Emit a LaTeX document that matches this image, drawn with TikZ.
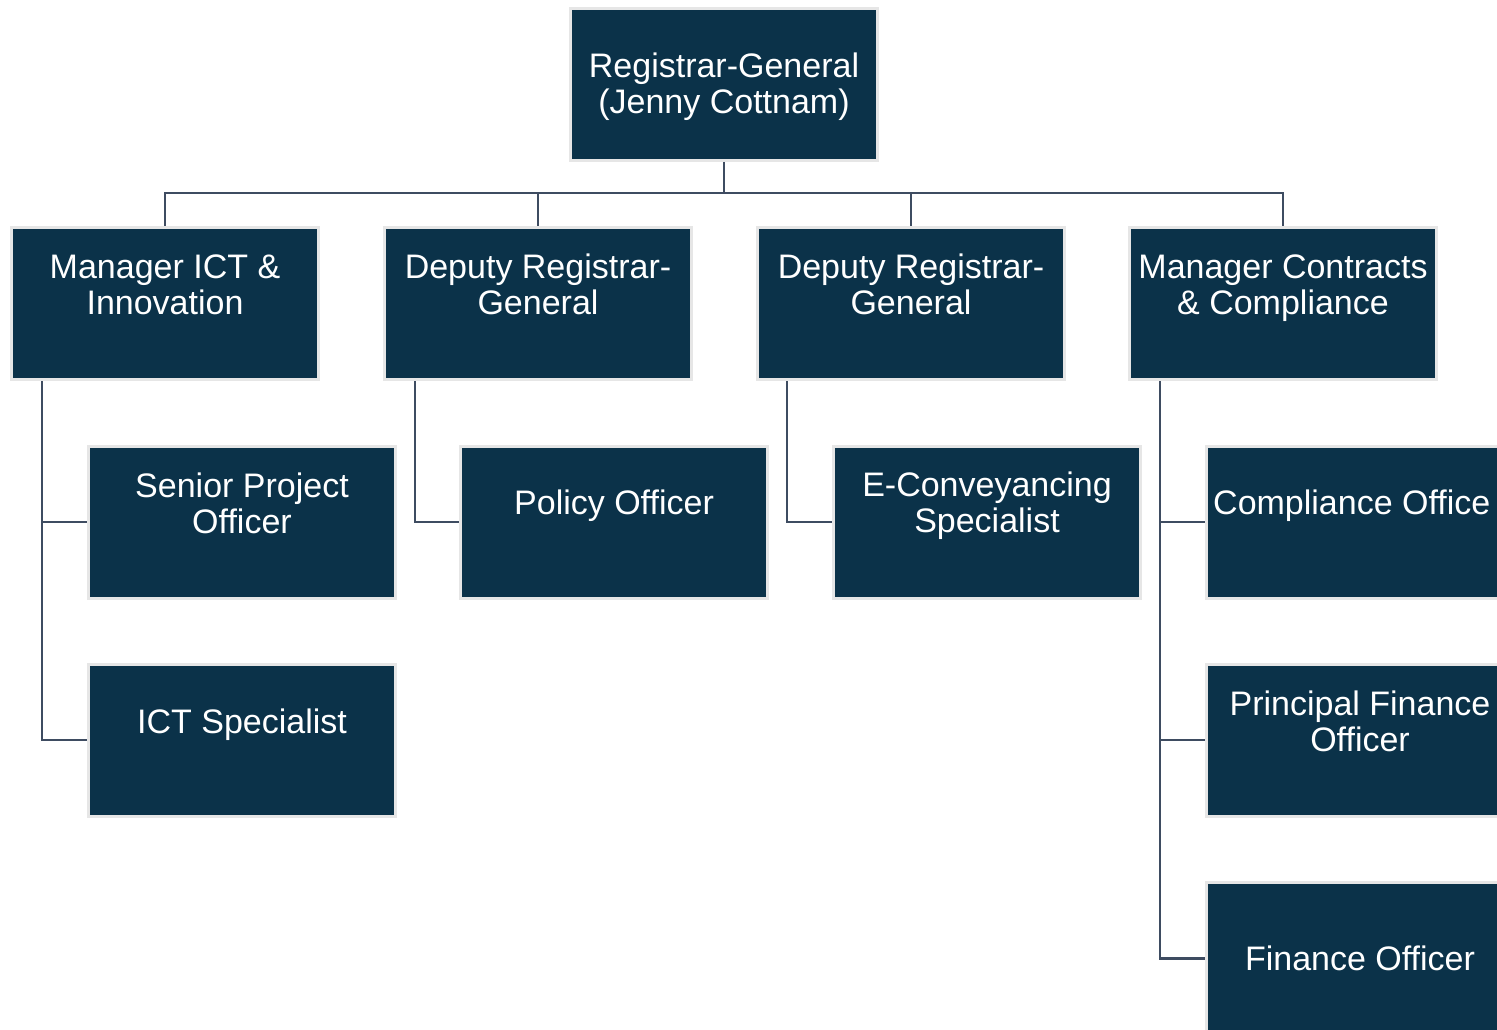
\documentclass[tikz,border=0pt]{standalone}
\usepackage{fontspec}
\setmainfont{Liberation Sans}
\definecolor{boxfill}{HTML}{0B3249}
\definecolor{boxedge}{HTML}{E6E6E6}
\definecolor{linkcol}{HTML}{3E4C61}
\tikzset{
  orgbox/.style={rectangle, fill=boxfill, draw=boxedge, line width=3pt,
    minimum width=307pt, minimum height=152pt, inner sep=0pt},
  lbl/.style={text=white, align=center, inner sep=0pt,
    font=\fontsize{34}{36}\selectfont},
  link/.style={draw=linkcol, line width=2.5pt}
}
\begin{document}
\begin{tikzpicture}[x=1pt,y=-1pt]
\useasboundingbox (0,0) rectangle (1497,1030);
% boxes
\node[orgbox] (rg) at (724,84.5) {};
\node[orgbox] (m1) at (165,303.5) {};
\node[orgbox] (d1) at (538,303.5) {};
\node[orgbox] (d2) at (911,303.5) {};
\node[orgbox] (mc) at (1283,303.5) {};
\node[orgbox] (sp) at (242,522) {};
\node[orgbox] (po) at (614,522) {};
\node[orgbox] (ec) at (987,522) {};
\node[orgbox] (co) at (1360,522) {};
\node[orgbox] (is) at (242,740) {};
\node[orgbox] (pf) at (1360,740) {};
\node[orgbox] (fo) at (1360,958.5) {};
% labels
\node[lbl] (rgt) at (724,87) {Registrar-General\\(Jenny Cottnam)};
\node[lbl] (m1t) at (165,284.5) {Manager ICT \&\\Innovation};
\node[lbl] (d1t) at (538,284) {Deputy Registrar-\\General};
\node[lbl] (d2t) at (911,284) {Deputy Registrar-\\General};
\node[lbl] (mct) at (1283,288) {Manager Contracts\\\& Compliance};
\node[lbl] (spt) at (242,503.5) {Senior Project\\Officer};
\node[lbl] (pot) at (614,506) {Policy Officer};
\node[lbl] (ect) at (987,506) {E-Conveyancing\\Specialist};
\node[lbl,anchor=west] (cot) at (1213,506) {Compliance Office};
\node[lbl] (ist) at (242,725) {ICT Specialist};
\node[lbl] (pft) at (1360,721) {Principal Finance\\Officer};
\node[lbl] (fot) at (1360,958) {Finance Officer};
% connectors
\coordinate (bus) at (724,193);
\draw[link] (rg.south) -- (bus);
\draw[link] (bus) -| (m1.north);
\draw[link] (bus) -| (d1.north);
\draw[link] (bus) -| (d2.north);
\draw[link] (bus) -| (mc.north);
\coordinate (m1s) at ([xshift=32pt]m1.south west);
\coordinate (d1s) at ([xshift=32pt]d1.south west);
\coordinate (d2s) at ([xshift=31pt]d2.south west);
\coordinate (mcs) at ([xshift=32pt]mc.south west);
\draw[link] (m1s) |- (sp.west);
\draw[link] (m1s) |- (is.west);
\draw[link] (d1s) |- (po.west);
\draw[link] (d2s) |- (ec.west);
\draw[link] (mcs) |- (co.west);
\draw[link] (mcs) |- (pf.west);
\draw[link] (mcs) |- (fo.west);
\end{tikzpicture}
\end{document}
